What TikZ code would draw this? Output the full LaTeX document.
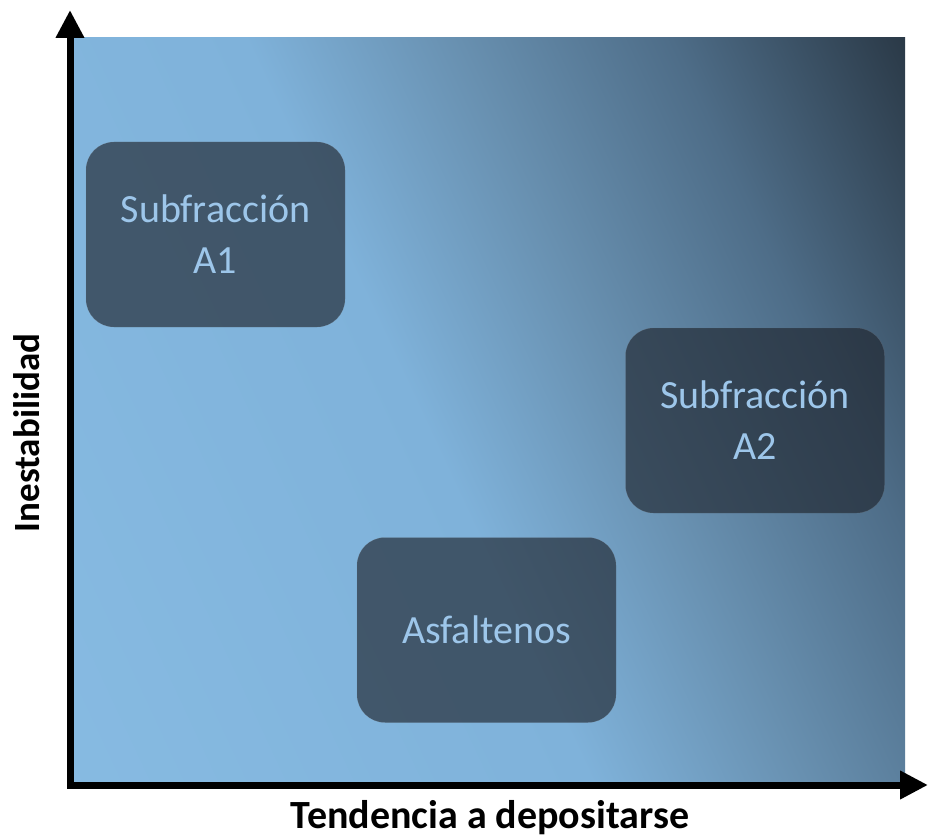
\documentclass[tikz,border=0pt]{standalone}
\usepackage{fontspec}
\setmainfont{Carlito}
\usepackage{tikz}
\usetikzlibrary{arrows.meta,positioning,shapes.geometric}
\usepackage{xcolor}
\definecolor{cLight}{RGB}{139,191,230}
\definecolor{cLight2}{RGB}{127,178,218}
\definecolor{cMid}{RGB}{104,144,176}
\definecolor{cSteel}{RGB}{78,109,136}
\definecolor{cDark}{RGB}{43,58,72}
\definecolor{cBox}{RGB}{31,37,46}
\definecolor{cText}{RGB}{157,198,234}
\pgfdeclarehorizontalshading{bgshade}{100bp}{color(0bp)=(cLight); color(46bp)=(cLight2);
  color(58bp)=(cMid); color(70bp)=(cSteel); color(83bp)=(cDark); color(100bp)=(cDark)}
\tikzset{
  fracbox/.style={rectangle,rounded corners=28pt,fill=cBox,fill opacity=0.65,
                  text opacity=1,draw=cBox!60,draw opacity=0.3,text=cText,align=center,
                  minimum width=259pt,minimum height=185pt,
                  font=\fontsize{40}{51}\selectfont},
  axislabel/.style={font=\fontsize{37}{40}\selectfont\bfseries,text=black},
  axisarr/.style={line width=7pt,{Triangle[length=28pt,width=27pt]}-{Triangle[length=28pt,width=27pt]}}
}
\begin{document}
\begin{tikzpicture}[x=1pt,y=-1pt]

  \useasboundingbox (0,0) rectangle (929,840);

  % gradient panel
  \shade[shading=bgshade,shading angle=25] (74,38) rectangle (905,782);

  % subfractions
  \node[fracbox] (a1) at (215.5,234.5) {Subfracción\\A1};
  \node[fracbox] (a2) at (755,420.5) {Subfracción\\A2};
  \node[fracbox] (asf) at (486.5,630) {Asfaltenos};

  % axes
  \coordinate (origin) at (70,785);
  \coordinate (ytip) at (70,10);
  \coordinate (xtip) at (928,785);
  \draw[axisarr] (ytip) -- (origin) -- (xtip);

  \node[axislabel,rotate=90] (ylab) at (27,433) {Inestabilidad};
  \node[axislabel,font=\fontsize{40}{42}\selectfont\bfseries] (xlab) at (490,818)
      {Tendencia a depositarse};

\end{tikzpicture}
\end{document}
